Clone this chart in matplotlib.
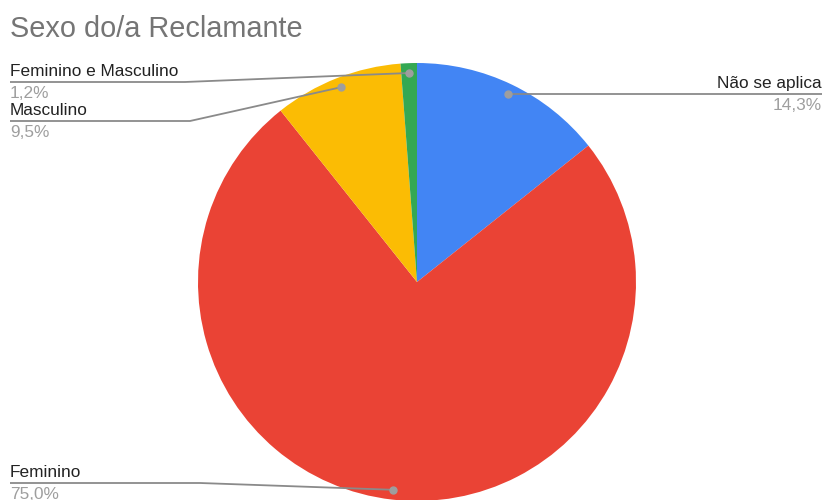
import numpy as np
import matplotlib
matplotlib.use("Agg")
import matplotlib.pyplot as plt

plt.rcParams['font.family'] = ['Liberation Sans', 'DejaVu Sans']

title = "Sexo do/a Reclamante"
categories = ["Não se aplica", "Feminino", "Masculino", "Feminino e Masculino"]
values = [14.3, 75.0, 9.5, 1.2]
colors = ["#4285F4", "#EA4335", "#FBBC04", "#34A853"]

W, H = 825, 500
fig = plt.figure(figsize=(W / 100, H / 100), dpi=100)
ax = fig.add_axes([0, 0, 1, 1])

cx, cy, R = 417, H - 282, 219
wedges, _ = ax.pie(values, colors=colors, startangle=90, counterclock=False,
                   center=(cx, cy), radius=R, frame=True,
                   wedgeprops=dict(linewidth=0))
ax.set_xlim(0, W)
ax.set_ylim(0, H)
ax.set_aspect('equal')
ax.axis('off')

def fmt(v):
    return f"{v:.1f}".replace('.', ',') + "%"

# leader layout: (side, line y in px, kink x in px)
layout = {
    "Não se aplica": ("right", 94, None),
    "Feminino": ("left", 483, 200),
    "Masculino": ("left", 121, 190),
    "Feminino e Masculino": ("left", 82, 185),
}

lc = "#8a8a8a"
total = sum(values)
start = 90.0
for cat, v in zip(categories, values):
    span = v / total * 360
    mid = np.deg2rad(start - span / 2)
    start -= span
    dx = cx + 0.955 * R * np.cos(mid)
    dy = cy + 0.955 * R * np.sin(mid)
    side, ly, kx = layout[cat]
    yline = H - ly
    if side == "right":
        ax.plot([dx, 822], [yline, yline], color=lc, lw=1.3, solid_capstyle='butt')
        ax.text(822, yline + 3, cat, ha='right', va='bottom', fontsize=12.4, color='#222222')
        ax.text(822, yline - 4, fmt(v), ha='right', va='top', fontsize=12.4, color='#9e9e9e')
    else:
        ax.plot([10, kx, dx], [yline, yline, dy], color=lc, lw=1.3, solid_capstyle='butt')
        ax.text(10, yline + 3, cat, ha='left', va='bottom', fontsize=12.4, color='#222222')
        ax.text(10, yline - 4, fmt(v), ha='left', va='top', fontsize=12.4, color='#9e9e9e')
    ax.plot([dx], [dy], 'o', color='#9e9e9e', markersize=5)

ax.text(10, H - 29, title, ha='left', va='center', fontsize=20.8, color='#757575')

fig.savefig("out.png", dpi=100)
